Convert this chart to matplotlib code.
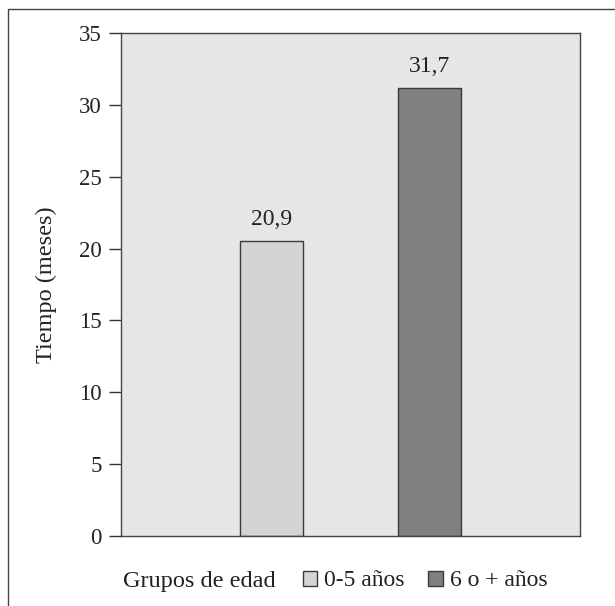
import matplotlib
matplotlib.use("Agg")
import matplotlib.pyplot as plt
from matplotlib.patches import Rectangle, Patch

categories = ["0-5 años", "6 o + años"]
bar_heights = [20.5, 31.2]
value_labels = ["20,9", "31,7"]
colors = ["#d4d4d4", "#808080"]
yticks = [0, 5, 10, 15, 20, 25, 30, 35]

plt.rcParams['font.family'] = ['Liberation Serif', 'DejaVu Serif']

W, H = 615, 606
fig = plt.figure(figsize=(W/100, H/100), dpi=100)
ax = fig.add_axes([121/W, 1-536/H, (580-121)/W, (536-33)/H])
ax.set_facecolor("#e6e6e6")

x = list(range(len(categories)))
ax.bar(x, bar_heights, width=0.4, color=colors, edgecolor="#3a3a3a", linewidth=1.0, zorder=2)
for xi, h, lab in zip(x, bar_heights, value_labels):
    ax.annotate(lab, (xi, h), xytext=(0, 8), textcoords="offset points",
                ha="center", va="bottom", fontsize=17, color="#222222")

ax.set_xlim(-0.95, 1.95)
ax.set_ylim(0, 35)
ax.set_yticks(yticks)
ax.set_yticklabels([str(t) for t in yticks], fontsize=16.5, color="#222222")
ax.set_xticks([])
ax.tick_params(axis="y", direction="out", length=9, width=1, color="#333333", pad=5)
for s in ax.spines.values():
    s.set_color("#444444")
    s.set_linewidth(1.0)
ax.set_ylabel("Tiempo (meses)", fontsize=17.5, color="#222222", labelpad=16)

# outer frame
fig.patches.append(Rectangle((8/W, -0.05), 1.2, 1-9/H+0.05, transform=fig.transFigure,
                             fill=False, edgecolor="#444444", linewidth=1.0))

fig.text(123/W, 1-581/H, "Grupos de edad", fontsize=17.5, ha="left", va="center", color="#222222")
handles = [Patch(facecolor=c, edgecolor="#3a3a3a", linewidth=1.0) for c in colors]
fig.legend(handles, categories, loc="center left", bbox_to_anchor=(303/W, 1-581/H),
           ncol=2, frameon=False, fontsize=17, handlelength=0.6, handleheight=0.6,
           handletextpad=0.3, columnspacing=1.0, borderaxespad=0, borderpad=0,
           labelcolor="#222222")

fig.savefig("out.png", dpi=100)
